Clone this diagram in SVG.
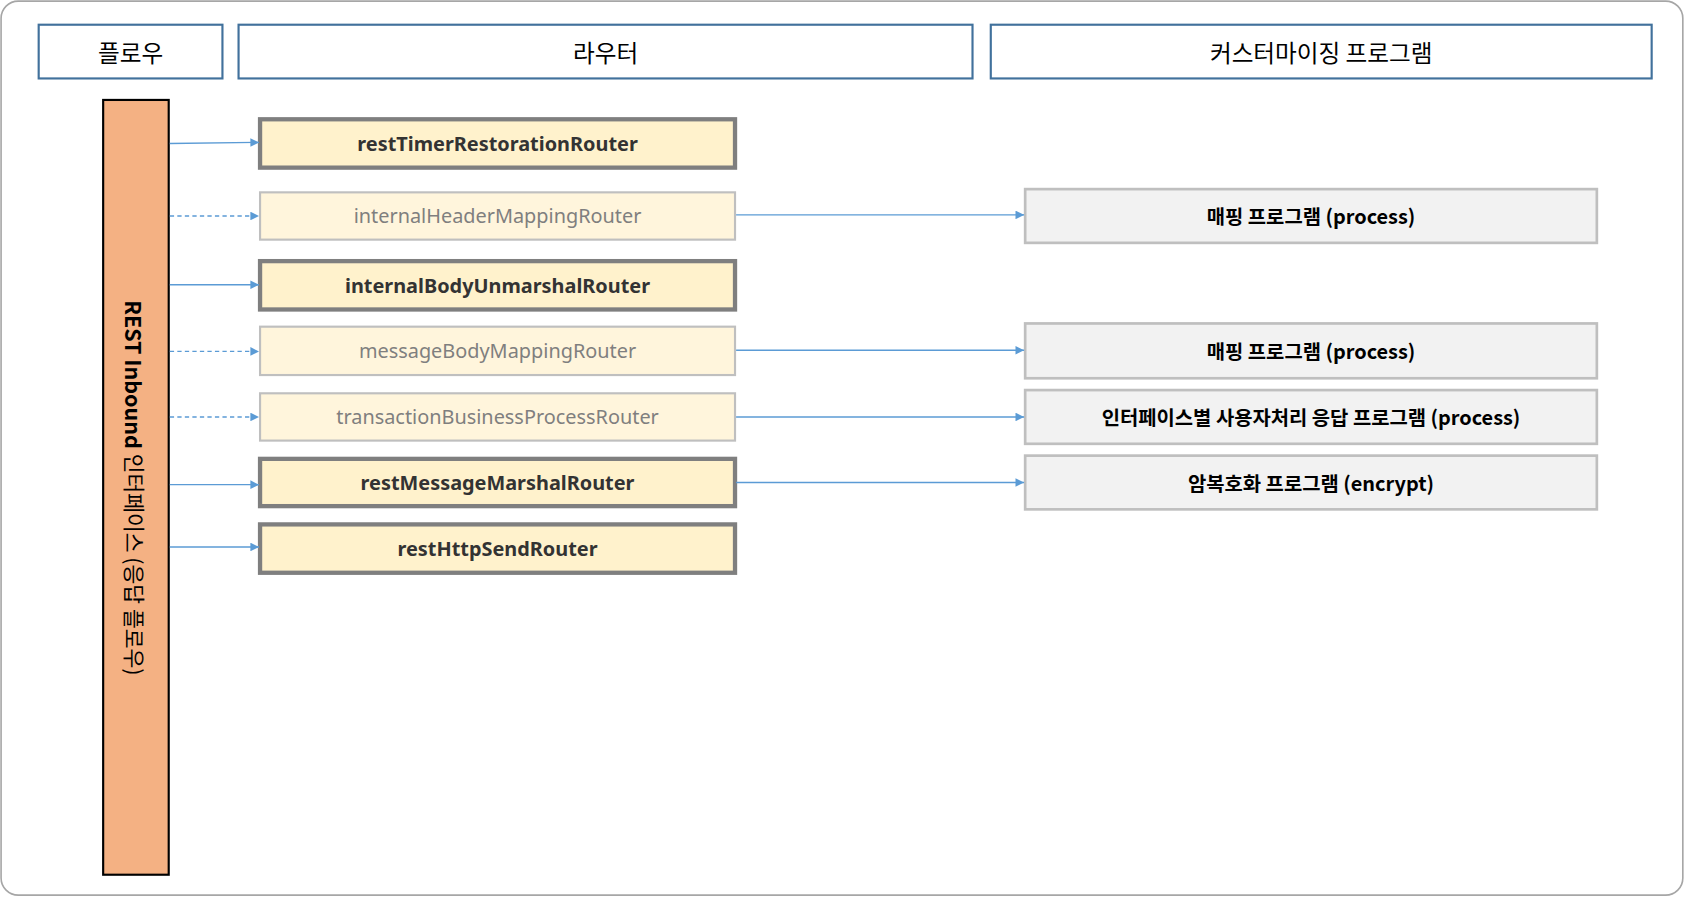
<svg xmlns="http://www.w3.org/2000/svg" width="1685" height="897" viewBox="0 0 1685 897">
<defs>
<style>
.hdr{fill:#fff;stroke:#41719c;stroke-width:2}
.ht{font-family:"Noto Sans CJK KR","Noto Sans",sans-serif;font-size:22px;fill:#000;text-anchor:middle;dominant-baseline:central}
.rb{fill:#fff2cc;stroke:#7f7f7f;stroke-width:4}
.rl{fill:#fff5dc;stroke:#bfbfbf;stroke-width:2}
.tb{font-family:"Noto Sans","Noto Sans CJK KR",sans-serif;font-size:18.5px;font-weight:bold;fill:#333;text-anchor:middle;dominant-baseline:central}
.tl{font-family:"Noto Sans","Noto Sans CJK KR",sans-serif;font-size:18.5px;fill:#7f7f7f;text-anchor:middle;dominant-baseline:central}
.pb{fill:#f2f2f2;stroke:#bfbfbf;stroke-width:2.5}
.pt{font-family:"Noto Sans CJK KR","Noto Sans",sans-serif;font-size:18.5px;font-weight:bold;fill:#000;text-anchor:middle;dominant-baseline:central}
.c{stroke:#5b9bd5;stroke-width:1.3;fill:none;marker-end:url(#a)}
.d{stroke-dasharray:4 3}
</style>
<marker id="a" viewBox="0 0 10 10" refX="10" refY="5" markerWidth="8" markerHeight="8" markerUnits="userSpaceOnUse" orient="auto"><path d="M0,0L10,5L0,10z" fill="#5b9bd5"/></marker>
</defs>
<g transform="scale(1.0746)">
<rect x="1" y="1" width="1565" height="832" rx="16" fill="#fff" stroke="#a6a6a6" stroke-width="1.5"/>
<g id="h1"><rect class="hdr" x="36" y="23" width="171" height="50"/><text class="ht" x="121.5" y="48">플로우</text></g>
<g id="h2"><rect class="hdr" x="222" y="23" width="683" height="50"/><text class="ht" x="563.5" y="48">라우터</text></g>
<g id="h3"><rect class="hdr" x="922" y="23" width="615" height="50"/><text class="ht" x="1229.5" y="48">커스터마이징 프로그램</text></g>
<g id="flow"><rect x="96" y="93" width="61" height="721" fill="#f4b183" stroke="#000" stroke-width="2"/>
<text transform="translate(126,454) rotate(90)" font-family="Noto Sans CJK KR,Noto Sans,sans-serif" font-size="20" text-anchor="middle" dominant-baseline="central" fill="#000"><tspan font-weight="bold">REST Inbound</tspan>  인터페이스 (응답 플로우)</text></g>
<g id="r1"><rect class="rb" x="242" y="111" width="442" height="45"/><text class="tb" x="463" y="133.5">restTimerRestorationRouter</text></g>
<g id="r2"><rect class="rl" x="242" y="179" width="442" height="44"/><text class="tl" x="463" y="201">internalHeaderMappingRouter</text></g>
<g id="r3"><rect class="rb" x="242" y="243" width="442" height="45"/><text class="tb" x="463" y="265.5">internalBodyUnmarshalRouter</text></g>
<g id="r4"><rect class="rl" x="242" y="304" width="442" height="45"/><text class="tl" x="463" y="326.5">messageBodyMappingRouter</text></g>
<g id="r5"><rect class="rl" x="242" y="366" width="442" height="44"/><text class="tl" x="463" y="388">transactionBusinessProcessRouter</text></g>
<g id="r6"><rect class="rb" x="242" y="427" width="442" height="44"/><text class="tb" x="463" y="449">restMessageMarshalRouter</text></g>
<g id="r7"><rect class="rb" x="242" y="488" width="442" height="45"/><text class="tb" x="463" y="510.5">restHttpSendRouter</text></g>
<g id="p1"><rect class="pb" x="954" y="176" width="532" height="50"/><text class="pt" x="1220" y="201">매핑 프로그램 (process)</text></g>
<g id="p2"><rect class="pb" x="954" y="301" width="532" height="51"/><text class="pt" x="1220" y="326.5">매핑 프로그램 (process)</text></g>
<g id="p3"><rect class="pb" x="954" y="363" width="532" height="50"/><text class="pt" x="1220" y="388">인터페이스별 사용자처리 응답 프로그램 (process)</text></g>
<g id="p4"><rect class="pb" x="954" y="424" width="532" height="50"/><text class="pt" x="1220" y="449">암복호화 프로그램 (encrypt)</text></g>
<g id="connectors">
<path class="c" d="M158,133.5L241,132.5"/>
<path class="c d" d="M158,201H241"/>
<path class="c" d="M158,265H241"/>
<path class="c d" d="M158,327H241"/>
<path class="c d" d="M158,388H241"/>
<path class="c" d="M158,451H241"/>
<path class="c" d="M158,509H241"/>
<path class="c" d="M685,200H953"/>
<path class="c" d="M685,326H953"/>
<path class="c" d="M685,388H953"/>
<path class="c" d="M685,449H953"/>
</g>
</g>
</svg>
